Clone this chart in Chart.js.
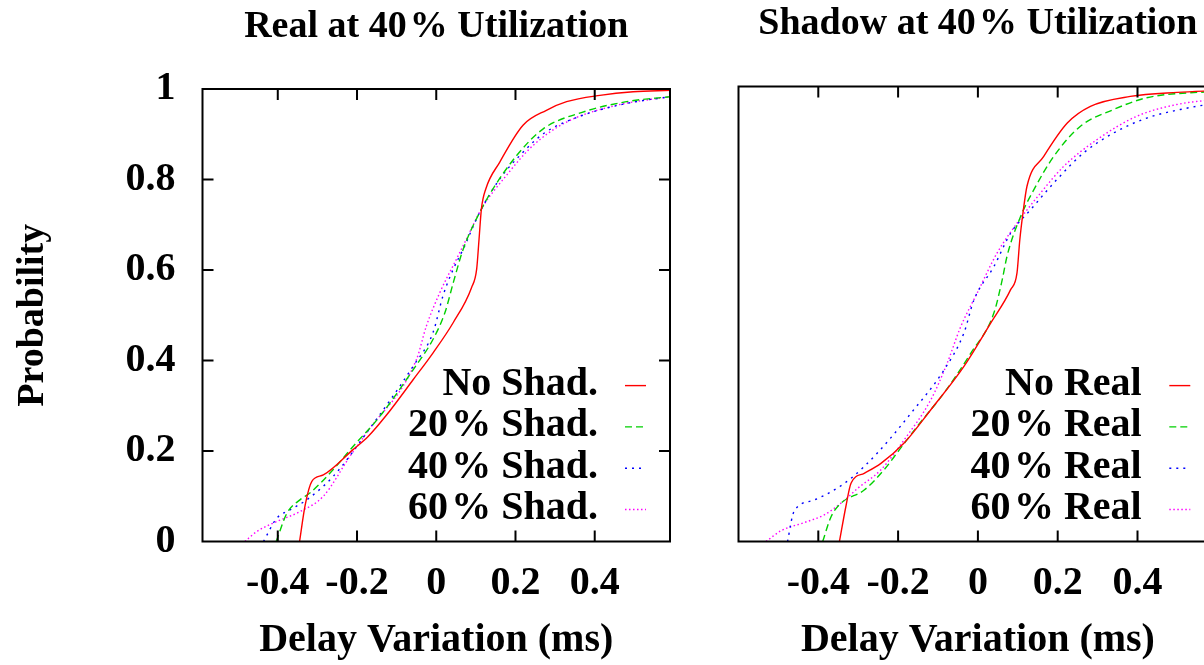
<!DOCTYPE html>
<html>
<head>
<meta charset="utf-8">
<script src="https://cdn.jsdelivr.net/npm/chart.js@4.4.1/dist/chart.umd.min.js"></script>
<style>
  body { margin: 0; width: 1204px; height: 665px; overflow: hidden; background: #fff; position: relative; }
  canvas { position: absolute; top: 0; }
  #graphReal { left: 0; }
  #graphShadow { left: 700px; }
</style>
</head>
<body>
<canvas id="graphReal" width="690" height="665"></canvas>
<canvas id="graphShadow" width="540" height="665"></canvas>
<script>
// tick labels
const xTicks = [-0.4, -0.2, 0, 0.2, 0.4];
const yTicks = [0, 0.2, 0.4, 0.6, 0.8, 1];

// left panel: real traffic at 40% utilization
const realLabels = ['No Shad.', '20\u200a% Shad.', '40\u200a% Shad.', '60\u200a% Shad.'];
const noShadX = [-0.345, -0.331, -0.314, -0.285, -0.21, -0.172, -0.125, -0.058, -0.008, 0.043, 0.089, 0.102, 0.108, 0.114, 0.125, 0.16, 0.219, 0.278, 0.329, 0.413, 0.497, 0.59];
const noShadP = [0, 0.08, 0.133, 0.147, 0.203, 0.232, 0.28, 0.358, 0.417, 0.484, 0.561, 0.602, 0.668, 0.735, 0.779, 0.838, 0.92, 0.953, 0.972, 0.986, 0.994, 0.997];
const shad20X = [-0.404, -0.377, -0.344, -0.319, -0.26, -0.21, -0.142, -0.058, -0.008, 0.022, 0.043, 0.068, 0.11, 0.143, 0.203, 0.27, 0.37, 0.48, 0.59];
const shad20P = [0, 0.0625, 0.092, 0.107, 0.159, 0.21, 0.277, 0.38, 0.447, 0.506, 0.572, 0.646, 0.728, 0.779, 0.853, 0.912, 0.949, 0.972, 0.983];
const shad40X = [-0.436, -0.403, -0.369, -0.327, -0.26, -0.176, -0.058, -0.008, 0.017, 0.043, 0.068, 0.11, 0.16, 0.211, 0.27, 0.37, 0.48, 0.59];
const shad40P = [0, 0.051, 0.07, 0.092, 0.144, 0.24, 0.388, 0.462, 0.543, 0.602, 0.646, 0.728, 0.801, 0.853, 0.901, 0.942, 0.968, 0.983];
const shad60X = [-0.483, -0.453, -0.403, -0.344, -0.285, -0.218, -0.176, -0.05, -0.025, 0.009, 0.051, 0.076, 0.114, 0.177, 0.244, 0.329, 0.455, 0.59];
const shad60P = [0, 0.022, 0.044, 0.066, 0.1, 0.188, 0.24, 0.402, 0.476, 0.55, 0.624, 0.668, 0.735, 0.809, 0.875, 0.927, 0.964, 0.983];

// right panel: shadow traffic at 40% utilization
const shadowLabels = ['No Real', '20\u200a% Real', '40\u200a% Real', '60\u200a% Real'];
const noRealX = [-0.347, -0.331, -0.318, -0.285, -0.243, -0.185, -0.118, -0.035, 0.032, 0.082, 0.098, 0.105, 0.113, 0.123, 0.165, 0.224, 0.282, 0.382, 0.5, 0.6];
const noRealP = [0, 0.077, 0.129, 0.151, 0.173, 0.218, 0.292, 0.388, 0.484, 0.558, 0.595, 0.668, 0.728, 0.787, 0.853, 0.927, 0.964, 0.986, 0.995, 0.999];
const real20X = [-0.389, -0.368, -0.343, -0.285, -0.235, -0.197, -0.152, -0.085, -0.018, 0.04, 0.061, 0.073, 0.107, 0.14, 0.19, 0.257, 0.34, 0.423, 0.6];
const real20P = [0, 0.055, 0.085, 0.114, 0.159, 0.203, 0.255, 0.329, 0.417, 0.506, 0.58, 0.632, 0.72, 0.779, 0.853, 0.92, 0.957, 0.983, 0.998];
const real40X = [-0.477, -0.464, -0.452, -0.41, -0.368, -0.318, -0.252, -0.168, -0.085, -0.035, -0.01, 0.04, 0.082, 0.132, 0.198, 0.265, 0.34, 0.423, 0.507, 0.6];
const real40P = [0, 0.059, 0.077, 0.092, 0.11, 0.14, 0.196, 0.284, 0.38, 0.462, 0.535, 0.609, 0.683, 0.735, 0.802, 0.861, 0.905, 0.938, 0.957, 0.972];
const real60X = [-0.531, -0.493, -0.435, -0.385, -0.343, -0.301, -0.243, -0.185, -0.118, -0.077, -0.043, -0.002, 0.048, 0.098, 0.157, 0.215, 0.298, 0.398, 0.498, 0.6];
const real60P = [0, 0.024, 0.042, 0.059, 0.085, 0.118, 0.159, 0.225, 0.314, 0.395, 0.476, 0.55, 0.639, 0.705, 0.772, 0.831, 0.89, 0.942, 0.968, 0.98];

// line styles (gnuplot-like)
const lineColors = ['#ff0000', '#00d000', '#0000ff', '#ff00ff'];
const lineDashes = [[], [7, 4], [2, 5], [1.5, 2.5]];

const SERIF = '"Liberation Serif", "Times New Roman", serif';

const pts = (xs, ys) => xs.map((x, i) => ({ x: x, y: ys[i] }));

// box around the plot with inward tick marks, like gnuplot
const frameTicks = {
  id: 'frameTicks',
  afterDatasetsDraw(chart, args, opts) {
    const { ctx, chartArea: a, scales } = chart;
    const len = 11;
    ctx.save();
    ctx.strokeStyle = '#000';
    ctx.lineWidth = 2;
    ctx.setLineDash([]);
    ctx.strokeRect(a.left, a.top, a.right - a.left, a.bottom - a.top);
    ctx.beginPath();
    scales.x.ticks.forEach(t => {
      const px = scales.x.getPixelForValue(t.value);
      ctx.moveTo(px, a.top); ctx.lineTo(px, a.top + len);
      ctx.moveTo(px, a.bottom); ctx.lineTo(px, a.bottom - len);
    });
    if (opts.yTicks) {
      scales.y.ticks.forEach(t => {
        if (t.value <= 0 || t.value >= 1) return;
        const py = scales.y.getPixelForValue(t.value);
        ctx.moveTo(a.left, py); ctx.lineTo(a.left + len, py);
        ctx.moveTo(a.right, py); ctx.lineTo(a.right - len, py);
      });
    }
    ctx.stroke();
    ctx.restore();
  }
};

// key drawn inside the plot, text right aligned with the sample on its right
const insideLegend = {
  id: 'insideLegend',
  afterDatasetsDraw(chart, args, opts) {
    const { ctx, chartArea: a } = chart;
    const sets = chart.data.datasets;
    ctx.save();
    ctx.font = 'bold 40px ' + SERIF;
    ctx.textAlign = 'right';
    ctx.textBaseline = 'middle';
    sets.forEach((ds, i) => {
      const y = a.bottom - opts.bottom - (sets.length - 1 - i) * opts.rowHeight;
      ctx.fillStyle = '#000';
      ctx.fillText(ds.label, a.right - opts.textRight, y);
      ctx.strokeStyle = ds.borderColor;
      ctx.lineWidth = ds.borderWidth;
      ctx.setLineDash(ds.borderDash);
      ctx.beginPath();
      ctx.moveTo(a.right - opts.sampleFrom, y + 1);
      ctx.lineTo(a.right - opts.sampleTo, y + 1);
      ctx.stroke();
    });
    ctx.restore();
  }
};

function makeDatasets(labels, series) {
  return series.map((s, i) => ({
    label: labels[i],
    data: pts(s[0], s[1]),
    borderColor: lineColors[i],
    borderDash: lineDashes[i],
    borderWidth: 1.4,
    pointRadius: 0,
    fill: false,
    showLine: true,
    cubicInterpolationMode: 'monotone'
  }));
}

function makeChart(id, title, datasets, o) {
  return new Chart(document.getElementById(id).getContext('2d'), {
    type: 'scatter',
    data: { datasets: datasets },
    plugins: [frameTicks, insideLegend],
    options: {
      responsive: false,
      animation: false,
      devicePixelRatio: 1,
      layout: { padding: { right: o.padRight } },
      plugins: {
        legend: { display: false },
        tooltip: { enabled: false },
        title: {
          display: true,
          text: title,
          fullSize: false,
          color: '#000',
          font: { family: SERIF, size: 38, weight: 'bold' },
          padding: { top: o.titleTop, bottom: o.titleBottom }
        },
        frameTicks: { yTicks: o.yLabels },
        insideLegend: { bottom: 33, rowHeight: 41.3, textRight: o.textRight, sampleFrom: o.sampleFrom, sampleTo: o.sampleTo }
      },
      scales: {
        x: {
          type: 'linear',
          min: o.xMin,
          max: o.xMax,
          afterBuildTicks: axis => { axis.ticks = xTicks.map(v => ({ value: v })); },
          afterFit: axis => { axis.height = 123.5; },
          grid: { display: false, drawTicks: false },
          border: { display: false },
          ticks: {
            color: '#000',
            padding: 18,
            maxRotation: 0,
            autoSkip: false,
            font: { family: SERIF, size: 40, weight: 'bold' },
            callback: v => String(+v.toFixed(1))
          },
          title: {
            display: true,
            text: 'Delay Variation (ms)',
            color: '#000',
            padding: { top: 0, bottom: 0 },
            font: { family: SERIF, size: 40, weight: 'bold' }
          }
        },
        y: {
          type: 'linear',
          min: 0,
          max: o.yMax,
          afterBuildTicks: axis => { axis.ticks = yTicks.map(v => ({ value: v })); },
          afterFit: axis => { axis.width = o.yWidth; },
          grid: { display: false, drawTicks: false },
          border: { display: false },
          ticks: {
            display: o.yLabels,
            color: '#000',
            padding: 27,
            font: { family: SERIF, size: 40, weight: 'bold' },
            callback: v => String(+v.toFixed(1))
          },
          title: {
            display: o.yLabels,
            text: 'Probability',
            color: '#000',
            padding: { top: 10, bottom: 0 },
            font: { family: SERIF, size: 38, weight: 'bold' }
          }
        }
      }
    }
  });
}

const graphReal = makeChart('graphReal', 'Real at 40\u200a% Utilization',
  makeDatasets(realLabels, [[noShadX, noShadP], [shad20X, shad20P], [shad40X, shad40P], [shad60X, shad60P]]),
  { xMin: -0.59, xMax: 0.59, yMax: 1, yWidth: 202.5, padRight: 20, titleTop: 4, titleBottom: 39.4, yLabels: true,
    textRight: 72, sampleFrom: 45, sampleTo: 24 });

const graphShadow = makeChart('graphShadow', 'Shadow at 40\u200a% Utilization',
  makeDatasets(shadowLabels, [[noRealX, noRealP], [real20X, real20P], [real40X, real40P], [real60X, real60P]]),
  { xMin: -0.6, xMax: 0.6, yMax: 1.008, yWidth: 38.5, padRight: 22.7, titleTop: 1.5, titleBottom: 39.4, yLabels: false,
    textRight: 75.6, sampleFrom: 48, sampleTo: 27 });
</script>
</body>
</html>
